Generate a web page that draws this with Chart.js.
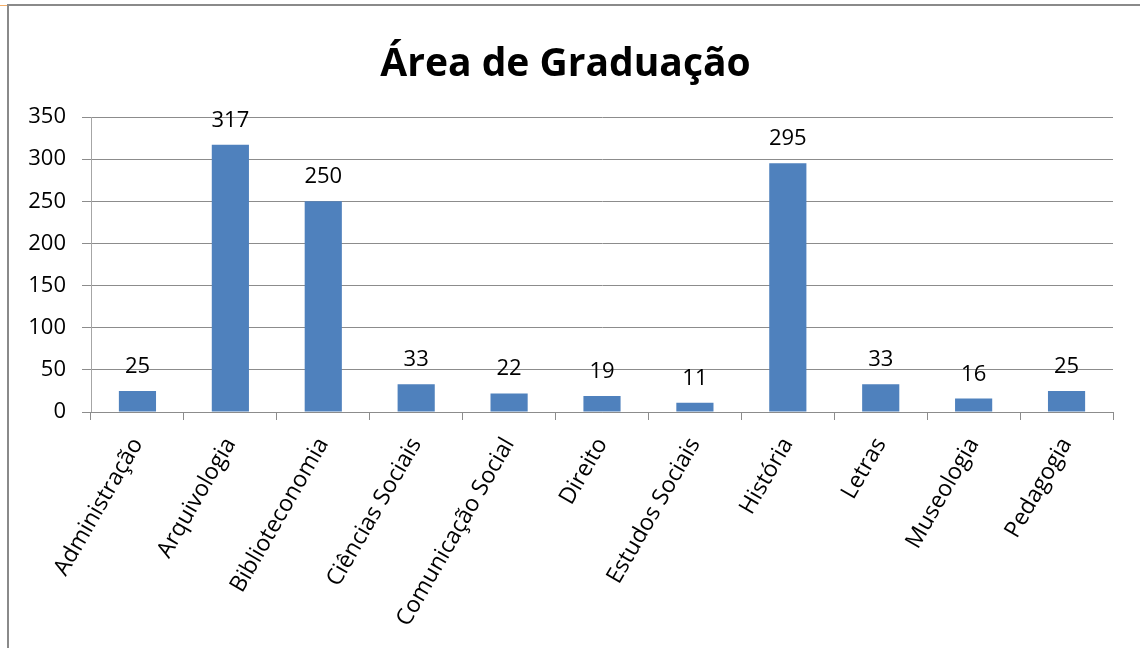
<!DOCTYPE html>
<html>
<head>
<meta charset="utf-8">
<script src="https://cdn.jsdelivr.net/npm/chart.js@4/dist/chart.umd.min.js"></script>
<style>
  body { margin: 0; background: #fff; }
  .frame {
    position: absolute; left: 7px; top: 4px; width: 1200px; height: 700px;
    border-left: 2px solid #8a8a8a; border-top: 2px solid #8a8a8a;
  }
  .corner { position: absolute; left: 0; top: 5px; width: 7px; height: 1px; background: #f5b06a; }
  #myChart { position: absolute; left: 0; top: 0; }
</style>
</head>
<body>
<div class="corner"></div>
<div class="frame"></div>
<canvas id="myChart" width="1140" height="648"></canvas>
<script>
  const categories = [
    "Administração", "Arquivologia", "Biblioteconomia", "Ciências Sociais",
    "Comunicação Social", "Direito", "Estudos Sociais", "História",
    "Letras", "Museologia", "Pedagogia"
  ];
  const values = [25, 317, 250, 33, 22, 19, 11, 295, 33, 16, 25];
  const yTicks = [0, 50, 100, 150, 200, 250, 300, 350];

  const font = '"Open Sans", "Noto Sans", sans-serif';

  // draws the value above each bar
  const barLabels = {
    id: "barLabels",
    afterDatasetsDraw(chart) {
      const ctx = chart.ctx;
      const meta = chart.getDatasetMeta(0);
      ctx.save();
      ctx.font = "22px " + font;
      ctx.fillStyle = "#000";
      ctx.textAlign = "center";
      ctx.textBaseline = "alphabetic";
      meta.data.forEach((bar, i) => {
        ctx.fillText(values[i], bar.x, bar.y - 18);
      });
      ctx.restore();
    },
  };

  function generateChart() {
    const info = {
      labels: categories,
      datasets: [
        {
          data: values,
          backgroundColor: "#4f81bd",
          barPercentage: 0.4,
          categoryPercentage: 1,
        },
      ],
    };
    const options = {
      responsive: false,
      animation: false,
      layout: { padding: { left: 18, right: 27, top: 0, bottom: 0 } },
      scales: {
        y: {
          min: 0,
          max: 350,
          afterBuildTicks: (scale) => {
            scale.ticks = yTicks.map((v) => ({ value: v }));
          },
          afterFit: (scale) => {
            scale.width = 73;
          },
          ticks: {
            color: "#000",
            padding: 16,
            font: { family: font, size: 22 },
          },
          grid: {
            color: "#8c8c8c",
            lineWidth: 1,
            tickLength: 9,
          },
          border: { color: "#a6a6a6", width: 1 },
        },
        x: {
          afterFit: (scale) => {
            scale.height = 236;
          },
          ticks: {
            color: "#000",
            autoSkip: false,
            maxRotation: 60,
            minRotation: 60,
            padding: 13,
            font: { family: font, size: 23 },
          },
          grid: {
            drawOnChartArea: false,
            color: "#8c8c8c",
            tickLength: 8,
          },
          border: { color: "#8c8c8c", width: 1 },
        },
      },
      plugins: {
        legend: { display: false },
        tooltip: { enabled: false },
        title: {
          display: true,
          text: "Área de Graduação",
          color: "#000",
          font: { family: font, size: 39, weight: "bold" },
          padding: { top: 41, bottom: 29.2 },
        },
      },
    };
    const config = {
      type: "bar",
      data: info,
      options,
      plugins: [barLabels],
    };
    const myChart = new Chart(document.getElementById("myChart"), config);
  }
  generateChart();
</script>
</body>
</html>
